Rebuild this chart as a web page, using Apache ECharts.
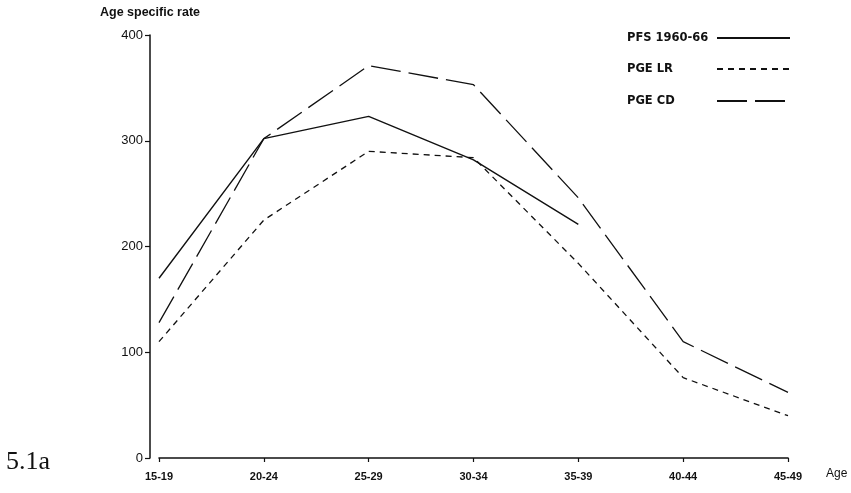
<!DOCTYPE html>
<html>
<head>
<meta charset="utf-8">
<script src="https://cdn.jsdelivr.net/npm/echarts@6/dist/echarts.min.js"></script>
<style>html,body{margin:0;padding:0;background:#fff}#c{width:851px;height:493px}</style>
</head>
<body>
<div id="c"></div>
<script>
var categories = ['15-19', '20-24', '25-29', '30-34', '35-39', '40-44', '45-49'];
var pfs = [170, 302, 323, 282, 221, null, null];
var pgeLR = [110, 225, 290, 284, 184, 76, 40];
var pgeCD = [128, 302, 371, 353, 246, 110, 62];
var yTicks = [0, 100, 200, 300, 400];

var font = '"Liberation Sans", Arial, sans-serif';
var legFont = '"DejaVu Sans", "Liberation Sans", sans-serif';
var legSize = 11.5;
var chart = echarts.init(document.getElementById('c'));

var ctx = document.createElement('canvas').getContext('2d');
ctx.font = 'bold ' + legSize + 'px ' + legFont;

function legendAt(name, top) {
  var w = ctx.measureText(name).width;
  var pad = Math.max(0, 85 - w);
  return {
    show: true, type: 'plain',
    data: [name], left: 627, top: top, orient: 'horizontal', align: 'right',
    itemWidth: 73, itemHeight: 10, itemGap: 4, padding: 0,
    itemStyle: {color: 'rgba(0,0,0,0)', borderWidth: 0, opacity: 0},
    textStyle: {fontFamily: legFont, fontSize: legSize, fontWeight: 'bold', color: '#111', padding: [0, pad, 0, 0]},
    selectedMode: false
  };
}

chart.setOption({
  animation: false,
  backgroundColor: '#fff',
  grid: {left: 159, right: 63, top: 35, bottom: 35},
  legend: [legendAt('PFS 1960-66', 32), legendAt('PGE LR', 63), legendAt('PGE CD', 95)],
  xAxis: {
    type: 'category', data: categories, boundaryGap: false, offset: 4,
    name: 'Age', nameLocation: 'end', nameGap: 38,
    nameTextStyle: {fontFamily: font, fontSize: 12, color: '#111', verticalAlign: 'top', padding: [10, 0, 0, 0]},
    axisLine: {lineStyle: {color: '#111', width: 1.6}},
    axisTick: {alignWithLabel: true, length: 4, lineStyle: {color: '#111', width: 1.2}},
    axisLabel: {fontFamily: font, fontSize: 11, color: '#111', margin: 9, fontWeight: 'bold'},
    splitLine: {show: false}
  },
  yAxis: {
    type: 'value', min: yTicks[0], max: yTicks[yTicks.length - 1], interval: 100, offset: 9,
    name: 'Age specific rate', nameLocation: 'end', nameGap: 16,
    nameTextStyle: {fontFamily: font, fontSize: 12.5, fontWeight: 'bold', color: '#111', align: 'center'},
    axisLine: {show: true, lineStyle: {color: '#111', width: 1.5}},
    axisTick: {show: true, length: 5, lineStyle: {color: '#111', width: 1.2}},
    axisLabel: {fontFamily: font, fontSize: 13, color: '#111', margin: 7},
    splitLine: {show: false}
  },
  series: [
    {name: 'PFS 1960-66', type: 'line', data: pfs, symbol: 'none', connectNulls: false,
     lineStyle: {color: '#111', width: 1.4, type: 'solid'}, itemStyle: {color: '#111'}},
    {name: 'PGE LR', type: 'line', data: pgeLR, symbol: 'none',
     lineStyle: {color: '#111', width: 1.3, type: [6, 5]}, itemStyle: {color: '#111'}},
    {name: 'PGE CD', type: 'line', data: pgeCD, symbol: 'none',
     lineStyle: {color: '#111', width: 1.3, type: [30, 8]}, itemStyle: {color: '#111'}}
  ],
  graphic: [
    {type: 'text', left: 6, top: 449, style: {text: '5.1a', font: '26px "Liberation Serif", "DejaVu Serif", serif', fill: '#111'}}
  ]
});
</script>
</body>
</html>
